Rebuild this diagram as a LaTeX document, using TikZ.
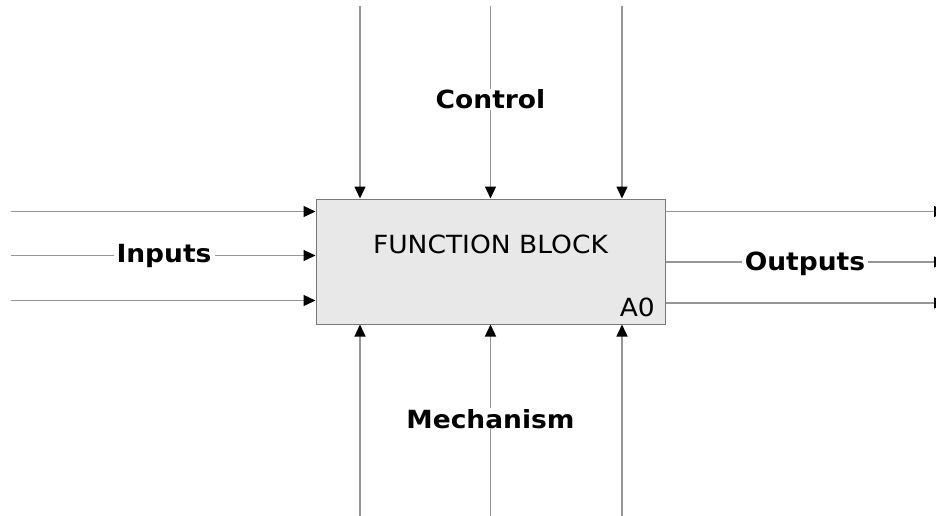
\documentclass[tikz,border=0pt]{standalone}
\usepackage{fontspec}
\setmainfont[FakeStretch=1.06]{DejaVu Sans}
\usetikzlibrary{arrows.meta}
\definecolor{linegray}{RGB}{150,150,150}
\definecolor{boxfill}{RGB}{232,232,232}
\definecolor{boxline}{RGB}{120,120,120}
\begin{document}
\begin{tikzpicture}[x=1pt,y=-1pt,
  conn/.style={draw=linegray,line width=1.3pt,-{Triangle[length=12pt,width=11pt,color=black]}},
  lbl/.style={font=\fontsize{25}{28}\selectfont\bfseries,fill=white,inner xsep=3pt,inner ysep=1pt,anchor=base},
  txt/.style={font=\fontsize{25}{28}\selectfont,inner sep=0pt},
  fblock/.style={draw=boxline,fill=boxfill,line width=1pt,minimum width=349pt,minimum height=125pt,inner sep=0pt}]
\useasboundingbox (0,0) rectangle (936,515);
\node[fblock] (box) at (490.5,261.5) {};
\node[txt,anchor=base] (title) at (490.5,253) {FUNCTION BLOCK};
\node[txt,anchor=base east] (a0) at (655,316) {A0};
% control
\coordinate (c1) at (360,6);
\coordinate (c2) at (490.5,6);
\coordinate (c3) at (622,6);
\draw[conn] (c1) -- (c1 |- box.north);
\draw[conn] (c2) -- (c2 |- box.north);
\draw[conn] (c3) -- (c3 |- box.north);
\node[lbl] (control) at (490.5,108.5) {Control};
% mechanism
\coordinate (m1) at (360,516);
\coordinate (m2) at (490.5,516);
\coordinate (m3) at (622,516);
\draw[conn] (m1) -- (m1 |- box.south);
\draw[conn] (m2) -- (m2 |- box.south);
\draw[conn] (m3) -- (m3 |- box.south);
\node[lbl] (mech) at (490.5,428) {Mechanism};
% inputs
\coordinate (i1) at (11,211.5);
\coordinate (i2) at (11,255.5);
\coordinate (i3) at (11,300.5);
\draw[conn] (i1) -- (i1 -| box.west);
\draw[conn] (i2) -- (i2 -| box.west);
\draw[conn] (i3) -- (i3 -| box.west);
\node[lbl] (inputs) at (164,262) {Inputs};
% outputs
\coordinate (o1) at (946,211.5);
\coordinate (o2) at (946,262);
\coordinate (o3) at (946,303);
\draw[conn] (o1 -| box.east) -- (o1);
\draw[conn] (o2 -| box.east) -- (o2);
\draw[conn] (o3 -| box.east) -- (o3);
\node[lbl] (outputs) at (805,270) {Outputs};
\end{tikzpicture}
\end{document}
